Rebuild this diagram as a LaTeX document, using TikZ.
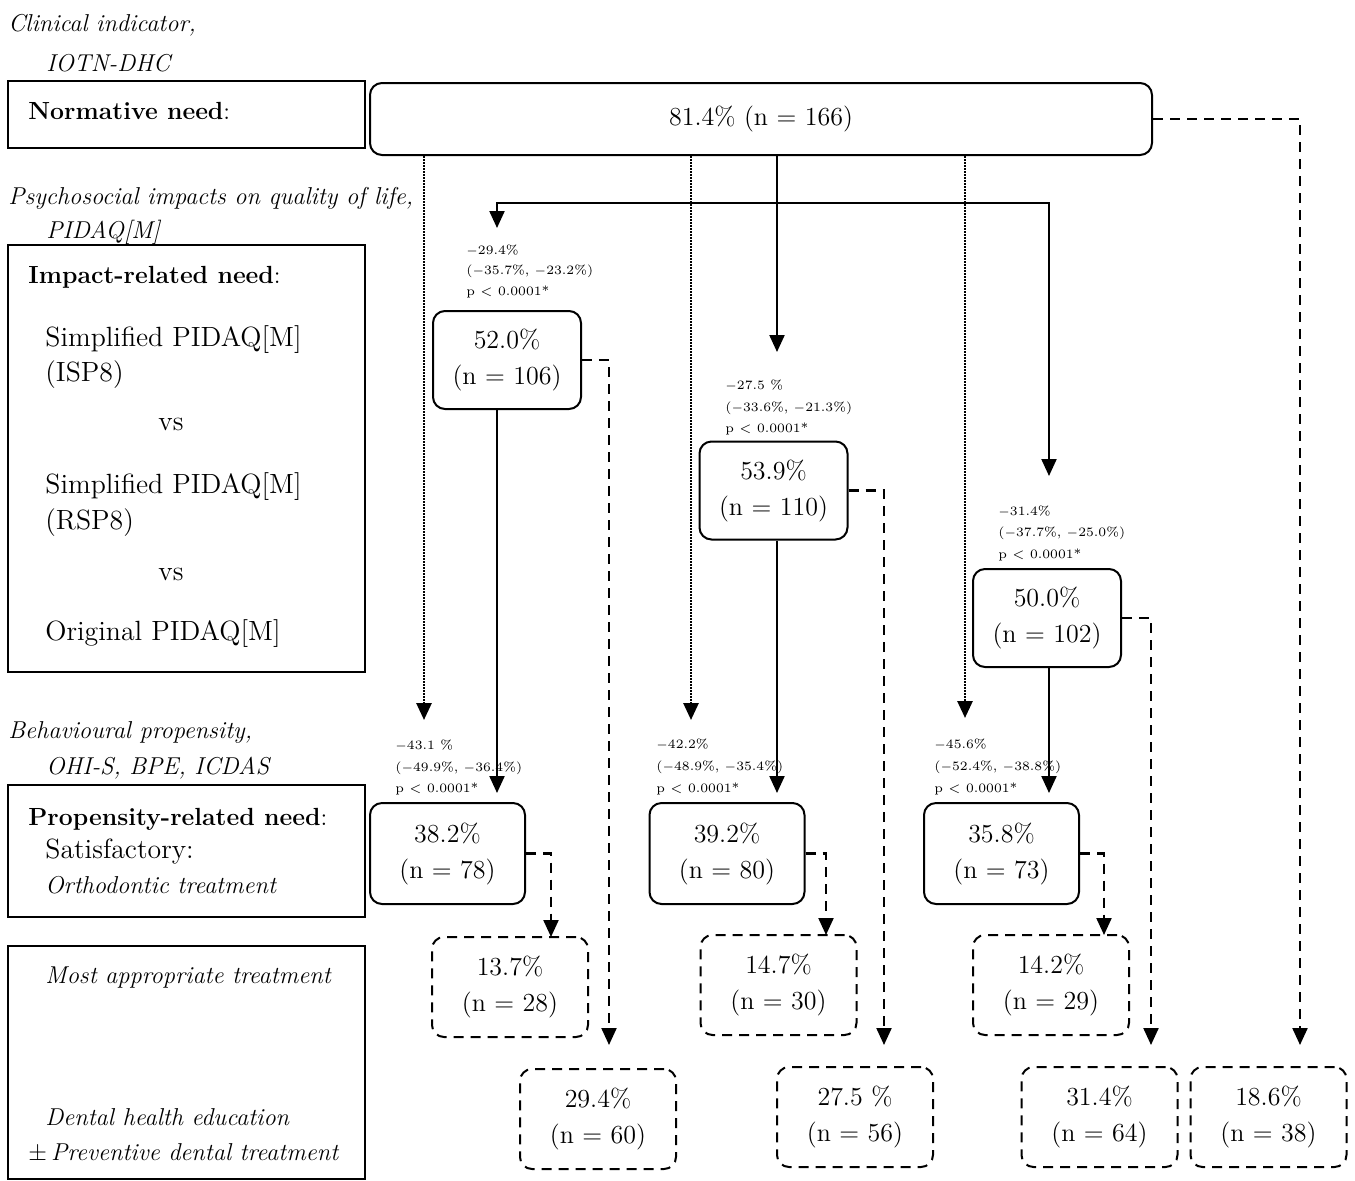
\documentclass[tikz,border=0pt]{standalone}
\usetikzlibrary{arrows.meta}
\begin{document}
\begin{tikzpicture}[x=0.5pt,y=-0.5pt,
  lbl/.style={anchor=base west, inner sep=0pt, font=\fontsize{13.9}{16}\selectfont},
  blbl/.style={anchor=base west, inner sep=0pt, font=\fontsize{12.4}{14}\selectfont},
  ilbl/.style={anchor=base west, inner sep=0pt, font=\fontsize{12.2}{14}\selectfont\itshape},
  stat/.style={anchor=base west, inner sep=0pt, font=\fontsize{6.4}{8}\selectfont},
  side/.style={draw, line width=0.7pt, inner sep=0pt, minimum width=178.5pt},
  rbox/.style={draw, line width=1pt, rounded corners=6pt, align=center, inner sep=0pt, font=\fontsize{13}{18}\selectfont},
  bbox/.style={rbox, minimum width=74pt, minimum height=49pt},
  cbox/.style={rbox, minimum width=77.5pt, minimum height=50.5pt},
  dbox/.style={rbox, dash pattern=on 5pt off 3.5pt, minimum width=78pt, minimum height=50pt},
  sarr/.style={line width=1.1pt, -{Triangle[width=7.5pt,length=8.5pt]}},
  darr/.style={sarr, dash pattern=on 5pt off 3.5pt},
  oarr/.style={sarr, line width=1.4pt, dash pattern=on 0.75pt off 0.75pt},
  sline/.style={line width=1.1pt},
]
\useasboundingbox (0,0) rectangle (1355,1180);

% ---------- left column ----------
\node[ilbl] (t1) at (8,31) {Clinical indicator,};
\node[ilbl] (t2) at (46,71) {IOTN-DHC};
\node[side, minimum height=33.5pt] (nb) at (186.5,114.5) {};
\node[blbl] (t3) at (28,119) {\textbf{Normative need}:};

\node[ilbl] (t4) at (8,204) {Psychosocial impacts on quality of life,};
\node[ilbl] (t5) at (46,238) {PIDAQ[M]};
\node[side, minimum height=213.5pt] (ib) at (186.5,458.5) {};
\node[blbl] (t6) at (28,283) {\textbf{Impact-related need}:};
\node[lbl] (t7) at (45,346) {Simplified PIDAQ[M]};
\node[lbl] (t8) at (45,381) {(ISP8)};
\node[lbl, anchor=base] (t9) at (171,430) {vs};
\node[lbl] (t10) at (45,493) {Simplified PIDAQ[M]};
\node[lbl] (t11) at (45,529) {(RSP8)};
\node[lbl, anchor=base] (t12) at (171,580) {vs};
\node[lbl] (t13) at (45,640) {Original PIDAQ[M]};

\node[ilbl] (t14) at (8,738) {Behavioural propensity,};
\node[ilbl] (t15) at (46,774) {OHI-S, BPE, ICDAS};
\node[side, minimum height=66pt] (pb) at (186.5,851) {};
\node[blbl] (t16) at (28,825) {\textbf{Propensity-related need}:};
\node[lbl] (t17) at (45,858) {Satisfactory:};
\node[ilbl] (t18) at (45,893) {Orthodontic treatment};

\node[side, minimum height=116.5pt] (tb) at (186.5,1062.5) {};
\node[ilbl] (t19) at (45,983) {Most appropriate treatment};
\node[ilbl] (t20) at (45,1125) {Dental health education};
\node[ilbl] (t21) at (28,1160) {\upshape$\pm$\,\itshape Preventive dental treatment};

% ---------- boxes ----------
\node[rbox, minimum width=391pt, minimum height=36pt] (top) at (761,119) {81.4\% (n = 166)};

\node[bbox] (B1) at (507,360) {52.0\%\\(n = 106)};
\node[bbox] (B2) at (773.5,490.5) {53.9\%\\(n = 110)};
\node[bbox] (B3) at (1047,618) {50.0\%\\(n = 102)};

\node[cbox] (C1) at (447.5,853.5) {38.2\%\\(n = 78)};
\node[cbox] (C2) at (727,853.5) {39.2\%\\(n = 80)};
\node[cbox] (C3) at (1001.5,853.5) {35.8\%\\(n = 73)};

\node[dbox] (D1) at (510,987) {13.7\%\\(n = 28)};
\node[dbox] (D2) at (778.5,985) {14.7\%\\(n = 30)};
\node[dbox] (D3) at (1051,985) {14.2\%\\(n = 29)};

\node[dbox] (E1) at (598,1119) {29.4\%\\(n = 60)};
\node[dbox] (E2) at (855,1117) {27.5 \%\\(n = 56)};
\node[dbox] (E3) at (1099.5,1117) {31.4\%\\(n = 64)};
\node[dbox] (E4) at (1268.5,1117) {18.6\%\\(n = 38)};

% ---------- statistics ----------
\node[stat] (s1a) at (466,254) {$-$29.4\%};
\node[stat] (s1b) at (466,274) {($-$35.7\%, $-$23.2\%)};
\node[stat] (s1c) at (466,295) {p < 0.0001*};
\node[stat] (s2a) at (725,389) {$-$27.5 \%};
\node[stat] (s2b) at (725,411) {($-$33.6\%, $-$21.3\%)};
\node[stat] (s2c) at (725,432) {p < 0.0001*};
\node[stat] (s3a) at (998,515) {$-$31.4\%};
\node[stat] (s3b) at (998,536) {($-$37.7\%, $-$25.0\%)};
\node[stat] (s3c) at (998,558) {p < 0.0001*};

\node[stat] (s4a) at (395,749) {$-$43.1 \%};
\node[stat] (s4b) at (395,771) {($-$49.9\%, $-$36.4\%)};
\node[stat] (s4c) at (395,792) {p < 0.0001*};
\node[stat] (s5a) at (656,748) {$-$42.2\%};
\node[stat] (s5b) at (656,770) {($-$48.9\%, $-$35.4\%)};
\node[stat] (s5c) at (656,792) {p < 0.0001*};
\node[stat] (s6a) at (934,748) {$-$45.6\%};
\node[stat] (s6b) at (934,770) {($-$52.4\%, $-$38.8\%)};
\node[stat] (s6c) at (934,792) {p < 0.0001*};

% ---------- coordinates ----------
\coordinate (o1) at (424,720);
\coordinate (o2) at (691,720);
\coordinate (o3) at (965,718);
\coordinate (j) at (777,203);
\coordinate (m2) at (777,352);
\coordinate (a1) at (497,228);
\coordinate (a3) at (1049,476);
\coordinate (c1) at (497,793);
\coordinate (c2) at (777,793);
\coordinate (c3) at (1049,793);
\coordinate (e1) at (609,1045);
\coordinate (e2) at (884,1045);
\coordinate (e3) at (1151,1045);
\coordinate (e4) at (1300,1045);
\coordinate (k1) at (551,937);
\coordinate (k2) at (826,935);
\coordinate (k3) at (1104,935);

% ---------- connectors ----------
\draw[oarr] (top.south -| o1) -- (o1);
\draw[oarr] (top.south -| o2) -- (o2);
\draw[oarr] (top.south -| o3) -- (o3);

\draw[sline] (top.south -| j) -- (j);
\draw[sarr] (j) -- (m2);
\draw[sarr] (j) -| (a1);
\draw[sarr] (j) -| (a3);

\draw[sarr] (B1.south -| c1) -- (c1);
\draw[sarr] (B2.south -| c2) -- (c2);
\draw[sarr] (B3.south -| c3) -- (c3);

\draw[darr] (B1.east) -| (e1);
\draw[darr] (B2.east) -| (e2);
\draw[darr] (B3.east) -| (e3);
\draw[darr] (top.east) -| (e4);

\draw[darr] (C1.east) -| (k1);
\draw[darr] (C2.east) -| (k2);
\draw[darr] (C3.east) -| (k3);
\end{tikzpicture}
\end{document}
